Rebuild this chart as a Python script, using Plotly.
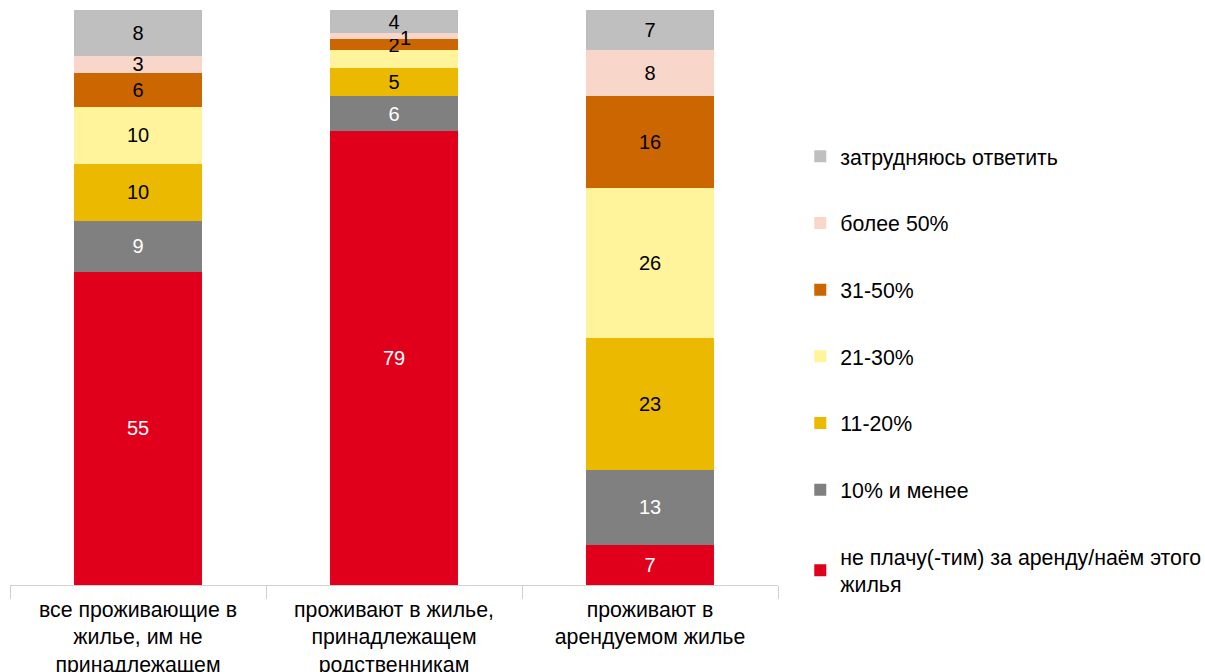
import plotly.graph_objects as go

categories = [
    "все проживающие в<br>жилье, им не<br>принадлежащем",
    "проживают в жилье,<br>принадлежащем<br>родственникам",
    "проживают в<br>арендуемом жилье",
]

series_names = [
    "не плачу(-тим) за аренду/наём этого<br>жилья",
    "10% и менее",
    "11-20%",
    "21-30%",
    "31-50%",
    "более 50%",
    "затрудняюсь ответить",
]

no_pay = [55, 79, 7]
upto_10 = [9, 6, 13]
pct_11_20 = [10, 5, 23]
pct_21_30 = [10, 3, 26]
pct_31_50 = [6, 2, 16]
over_50 = [3, 1, 8]
hard_to_say = [8, 4, 7]

series_values = [no_pay, upto_10, pct_11_20, pct_21_30, pct_31_50, over_50, hard_to_say]
series_colors = ["#E0001B", "#808080", "#EBBA00", "#FFF39B", "#CC6600", "#F8D6C9", "#BFBFBF"]
label_colors = ["white", "white", "black", "black", "black", "black", "black"]

FONT = "Liberation Sans, Arial, sans-serif"

# segments whose label is drawn separately (too thin to hold text) or not at all
HIDDEN = {(3, 1), (5, 1)}


def labels_for(i, vals):
    return ["" if (i, j) in HIDDEN else str(v) for j, v in enumerate(vals)]


fig = go.Figure()
n = len(series_names)
for i, (name, vals, col) in enumerate(zip(series_names, series_values, series_colors)):
    fig.add_trace(go.Bar(
        x=categories,
        y=vals,
        name=name,
        legendgroup=f"g{i}",
        legendrank=(n - i) * 10,
        marker=dict(color=col, line=dict(width=0)),
        text=labels_for(i, vals),
        textposition="inside",
        insidetextanchor="middle",
        textangle=0,
        constraintext="none",
        textfont=dict(color=label_colors[i], size=20, family=FONT),
        hoverinfo="skip",
    ))

# label for the thin "более 50%" slice of the middle bar, placed beside its centre
k, j = 5, 1
total = sum(s[j] for s in series_values)
below = sum(series_values[m][j] for m in range(k))
mid_pct = (below + series_values[k][j] / 2) / total * 100
fig.add_annotation(
    x=categories[j], y=mid_pct, text=str(series_values[k][j]),
    showarrow=False, xshift=11, yshift=-2,
    font=dict(size=20, color=label_colors[k], family=FONT),
)

fig.update_layout(
    barmode="stack",
    barnorm="percent",
    bargap=0.5,
    width=1205,
    height=672,
    margin=dict(l=10, r=427, t=10, b=87, autoexpand=False),
    paper_bgcolor="white",
    plot_bgcolor="white",
    font=dict(family=FONT, size=20, color="#000000"),
    uniformtext=dict(minsize=20, mode="show"),
    showlegend=True,
    legend=dict(
        traceorder="grouped",
        tracegroupgap=36,
        x=1.029,
        xanchor="left",
        y=0.781,
        yanchor="top",
        font=dict(size=21.3, color="#000000"),
        itemwidth=30,
        bgcolor="rgba(0,0,0,0)",
    ),
    xaxis=dict(
        showline=True,
        linecolor="#D0D0D0",
        linewidth=1,
        ticks="outside",
        tickson="boundaries",
        ticklen=13,
        tickcolor="#D0D0D0",
        ticklabelstandoff=5,
        automargin=False,
        tickfont=dict(size=21.3, color="#000000"),
        showgrid=False,
        fixedrange=True,
    ),
    yaxis=dict(
        range=[0, 100],
        visible=False,
        showgrid=False,
        fixedrange=True,
    ),
)

fig.write_html("out.html")
